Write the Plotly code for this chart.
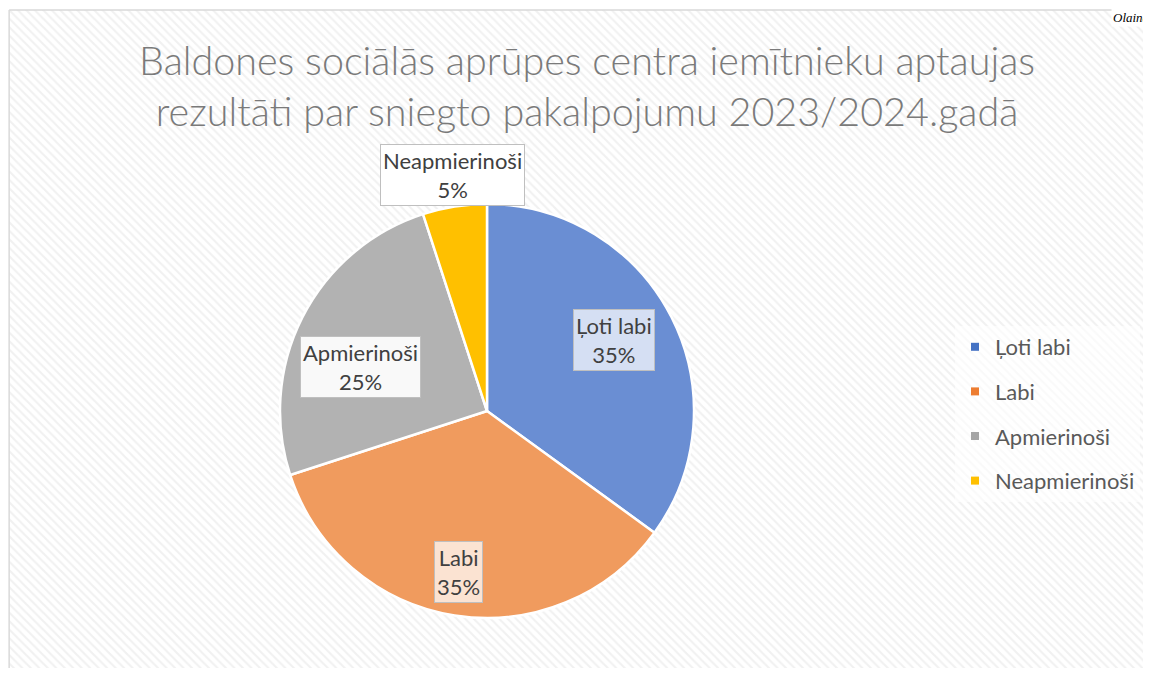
import math
import plotly.graph_objects as go

categories = ["Ļoti labi", "Labi", "Apmierinoši", "Neapmierinoši"]
values = [35, 35, 25, 5]
pct_labels = ["35%", "35%", "25%", "5%"]
colors = ["#6a8ed3", "#f09b5e", "#b2b2b2", "#ffc000"]
legend_colors = ["#4472c4", "#ed7d31", "#a5a5a5", "#ffc000"]

title_text = "Baldones sociālās aprūpes centra iemītnieku aptaujas<br>rezultāti par sniegto pakalpojumu 2023/2024.gadā"

# page body has an 8px margin: figure coords = reference coords - 8
OFF = 8
W, H = 1143, 660
# pie placement (reference pixels)
cx_px, cy_px, r_px = 487, 411, 207
# label placement: radial factor and angular tweak (deg)
label_r = [0.703, 0.79, 0.645, 1.153]
label_dang = [-2.2, 0.9, -7.7, 0.6]

def px_x(x):
    return (x - OFF) / W

def px_y(y):
    return 1 - (y - OFF) / H

FONT = "Lato, Open Sans, sans-serif"

fig = go.Figure()

# hatched chart-area background
fig.add_trace(go.Scatter(
    x=[0, 1, 1, 0, 0], y=[0, 0, 1, 1, 0],
    mode="lines", fill="toself",
    line=dict(color="rgba(0,0,0,0)", width=0),
    fillcolor="white",
    fillpattern=dict(shape="\\", fgcolor="#e3e3e3", bgcolor="white", size=6, solidity=0.35),
    hoverinfo="skip", showlegend=False,
))

fig.add_trace(go.Pie(
    labels=categories, values=values,
    sort=False, direction="clockwise", rotation=0,
    marker=dict(colors=colors, line=dict(color="white", width=2.5)),
    textinfo="none", hoverinfo="label+percent",
    showlegend=False,
    domain=dict(x=[px_x(cx_px - r_px), px_x(cx_px + r_px)],
                y=[px_y(cy_px + r_px), px_y(cy_px - r_px)]),
))

# legend entries
for i, (c, col) in enumerate(zip(categories, legend_colors)):
    fig.add_trace(go.Scatter(
        x=[None], y=[None], mode="markers", name=c, legendgroup=f"g{i}",
        marker=dict(symbol="square", size=8, color=col),
    ))

# data labels computed from values
total = sum(values)
cum = 0
annotations = []
bgs = ["rgba(255,255,255,0.72)", "rgba(255,255,255,0.72)", "rgba(255,255,255,0.92)", "rgba(255,255,255,0.95)"]
for i, v in enumerate(values):
    mid = (cum + v / 2) / total * 360 + label_dang[i]
    cum += v
    th = math.radians(mid)
    lx = cx_px + r_px * label_r[i] * math.sin(th)
    ly = cy_px - r_px * label_r[i] * math.cos(th)
    annotations.append(dict(
        x=px_x(lx), y=px_y(ly), xref="paper", yref="paper",
        text=f"{categories[i]}<br>{pct_labels[i]}", showarrow=False,
        font=dict(family=FONT, size=22, color="#404040"),
        bgcolor=bgs[i], bordercolor="#bfbfbf", borderwidth=1, borderpad=2,
        xanchor="center", yanchor="middle",
    ))

annotations.append(dict(
    x=px_x(587), y=px_y(85), xref="paper", yref="paper",
    text=title_text, showarrow=False,
    font=dict(family=FONT, size=39.5, color="#7a7a7a", weight=300),
    xanchor="center", yanchor="middle",
))
annotations.append(dict(
    x=1, y=1, xref="paper", yref="paper",
    text="<i>Olaine</i>", showarrow=False,
    font=dict(family="Liberation Serif, serif", size=13, color="#000000"),
    xanchor="right", yanchor="top", bgcolor="white",
))

shapes = [
    dict(type="line", xref="paper", yref="paper", x0=0.001, x1=0.001, y0=0, y1=px_y(10),
         line=dict(color="#d9d9d9", width=1.5)),
    dict(type="line", xref="paper", yref="paper", x0=0.001, x1=1, y0=px_y(10), y1=px_y(10),
         line=dict(color="#d9d9d9", width=1.5)),
]

fig.update_layout(
    width=W, height=H,
    margin=dict(l=0, r=0, t=0, b=0),
    paper_bgcolor="white", plot_bgcolor="rgba(0,0,0,0)",
    xaxis=dict(domain=[0.001, 1], range=[0, 1], visible=False, fixedrange=True),
    yaxis=dict(domain=[0, px_y(10)], range=[0, 1], visible=False, fixedrange=True),
    legend=dict(
        x=px_x(955), y=px_y(326), xanchor="left", yanchor="top",
        font=dict(family=FONT, size=22, color="#595959"),
        bgcolor="rgba(255,255,255,0.6)", tracegroupgap=13, itemwidth=30,
        traceorder="grouped",
    ),
    shapes=shapes,
    annotations=annotations,
)

fig.write_html("out.html")
